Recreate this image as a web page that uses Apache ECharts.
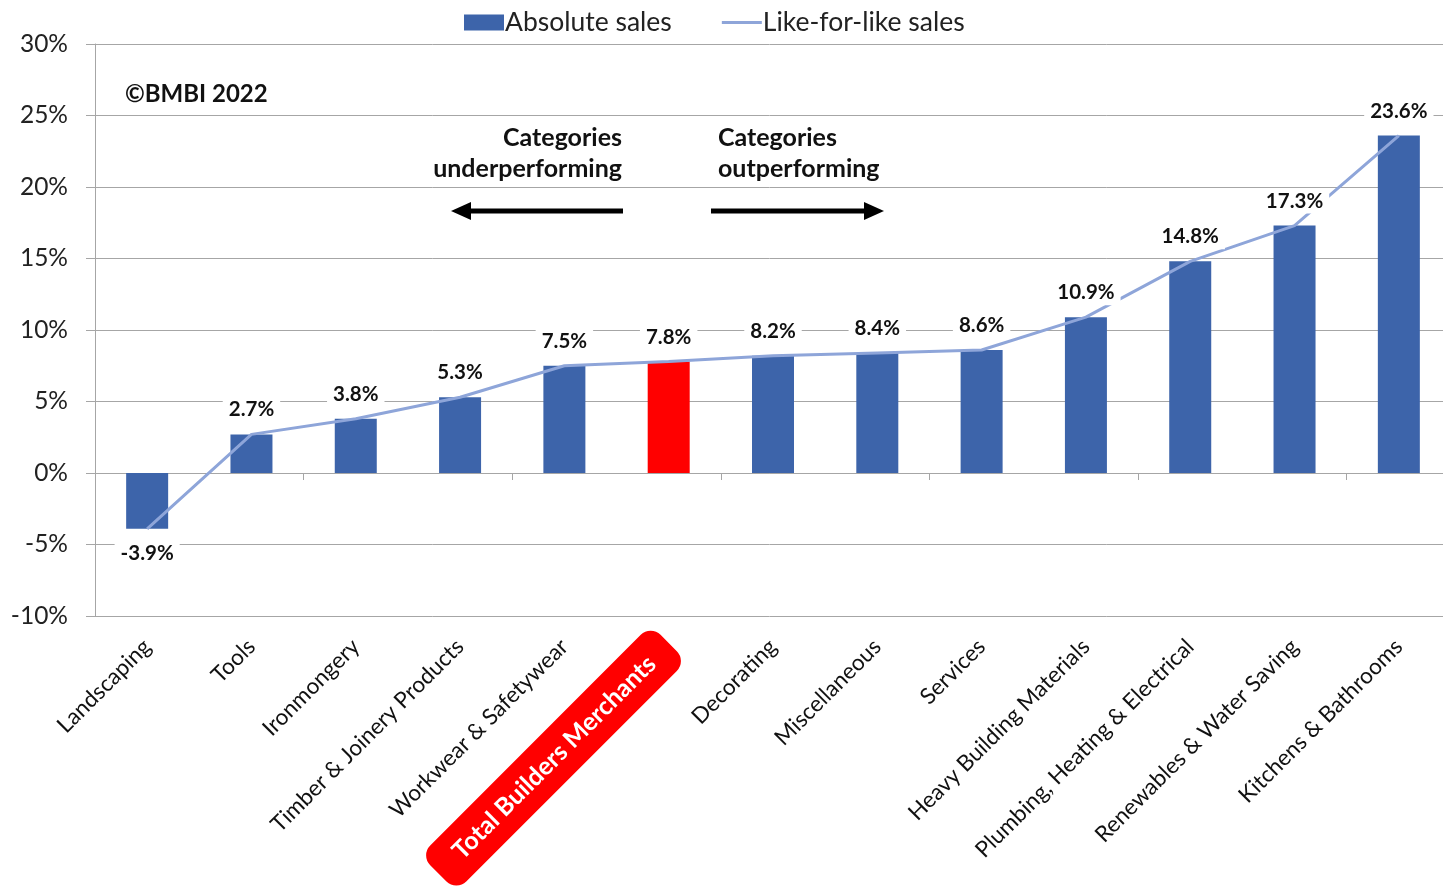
<!DOCTYPE html>
<html>
<head>
<meta charset="utf-8">
<script src="https://cdn.jsdelivr.net/npm/echarts@6/dist/echarts.min.js"></script>
<style>
  html, body { margin: 0; padding: 0; background: #fff; }
  #chart { width: 1443px; height: 886px; }
</style>
</head>
<body>
<div id="chart"></div>
<script>
// categories, sorted from worst to best
var categories = [
  'Landscaping', 'Tools', 'Ironmongery', 'Timber & Joinery Products',
  'Workwear & Safetywear', 'Total Builders Merchants', 'Decorating',
  'Miscellaneous', 'Services', 'Heavy Building Materials',
  'Plumbing, Heating & Electrical', 'Renewables & Water Saving',
  'Kitchens & Bathrooms'
];
var absoluteSales = [-3.9, 2.7, 3.8, 5.3, 7.5, 7.8, 8.2, 8.4, 8.6, 10.9, 14.8, 17.3, 23.6];
var likeForLike = [-3.9, 2.7, 3.8, 5.3, 7.5, 7.8, 8.2, 8.4, 8.6, 10.9, 14.8, 17.3, 23.6];
var yTicks = { min: -10, max: 30, step: 5 };
var totalName = 'Total Builders Merchants';

var FONT = 'Lato, "Noto Sans", sans-serif';
var blue = '#3D64AA';
var lineBlue = '#8EA5D9';
var grey = '#A6A6A6';

var myChart = echarts.init(document.getElementById('chart'));

var barData = absoluteSales.map(function (v, i) {
  if (categories[i] === totalName) {
    return { value: v, itemStyle: { color: '#FF0000' } };
  }
  return v;
});

// value labels sit on the line series so they mask the line and gridlines
var lineData = likeForLike.map(function (v) {
  if (v < 0) return { value: v, label: { position: 'bottom' } };
  return v;
});

var option = {
  backgroundColor: '#fff',
  textStyle: { fontFamily: FONT },
  animation: false,
  legend: {
    top: 4,
    left: 459,
    itemWidth: 40,
    itemHeight: 16,
    itemGap: 50,
    textStyle: { fontSize: 26.5, color: '#222', fontFamily: FONT, padding: [0, 0, 0, -4] },
    data: [
      { name: 'Absolute sales', icon: 'rect' },
      { name: 'Like-for-like sales', icon: 'path://M0,0 L40,0 L40,3 L0,3 Z', itemStyle: { color: lineBlue } }
    ]
  },
  grid: { left: 95, right: -8, top: 44, bottom: 270, outerBoundsMode: 'none', containLabel: false },
  xAxis: [{
    type: 'category',
    data: categories,
    axisLine: { onZero: true, lineStyle: { color: grey, width: 1 } },
    axisTick: { show: true, length: 7, lineStyle: { color: grey } },
    axisLabel: { show: false }
  }, {
    type: 'category',
    data: categories,
    position: 'bottom',
    axisLine: { show: false, onZero: false },
    axisTick: { show: false },
    axisLabel: {
      rotate: 45,
      margin: 27,
      interval: 0,
      formatter: function (v) {
        return v === totalName ? '{tot|' + v + '}' : '{n|' + v + '}';
      },
      rich: {
        n: { fontSize: 22.5, color: '#111', fontFamily: FONT },
        tot: {
          fontSize: 25, color: '#fff', fontWeight: 'bold', fontFamily: FONT,
          backgroundColor: '#FF0000', borderRadius: 14, padding: [13, 24, 13, 26]
        }
      }
    }
  }],
  yAxis: {
    type: 'value',
    min: yTicks.min,
    max: yTicks.max,
    interval: yTicks.step,
    axisLine: { show: true, lineStyle: { color: grey } },
    axisTick: { show: true, length: 9, lineStyle: { color: grey } },
    axisLabel: { fontSize: 24.5, color: '#222', margin: 27, formatter: '{value}%' },
    splitLine: { lineStyle: { color: grey, width: 1 } }
  },
  series: [{
    name: 'Absolute sales',
    type: 'bar',
    xAxisIndex: 0,
    barWidth: 42,
    itemStyle: { color: blue },
    data: barData,
    z: 2
  }, {
    name: 'Like-for-like sales',
    type: 'line',
    xAxisIndex: 0,
    symbol: 'circle',
    symbolSize: 0,
    showSymbol: true,
    lineStyle: { color: lineBlue, width: 3 },
    itemStyle: { color: lineBlue },
    label: {
      show: true,
      position: 'top',
      distance: 12,
      fontSize: 20.5,
      fontWeight: 'bold',
      color: '#111',
      fontFamily: FONT,
      backgroundColor: '#fff',
      padding: [2, 6],
      formatter: function (p) { return p.value.toFixed(1) + '%'; }
    },
    data: lineData,
    z: 3
  }],
  graphic: [
    {
      type: 'text', left: 125, top: 82,
      style: { text: '\u00A9BMBI 2022', font: 'bold 24px ' + FONT, fill: '#111' }
    },
    {
      type: 'text', x: 622, y: 122,
      style: { text: 'Categories\nunderperforming', align: 'right', font: 'bold 25px ' + FONT, lineHeight: 31, fill: '#111' }
    },
    {
      type: 'text', x: 718, y: 122,
      style: { text: 'Categories\noutperforming', align: 'left', font: 'bold 25px ' + FONT, lineHeight: 31, fill: '#111' }
    },
    {
      type: 'line', shape: { x1: 623, y1: 211, x2: 468, y2: 211 },
      style: { stroke: '#000', lineWidth: 5 }
    },
    {
      type: 'polygon', shape: { points: [[451, 211], [471, 202], [471, 220]] },
      style: { fill: '#000' }
    },
    {
      type: 'line', shape: { x1: 711, y1: 211, x2: 866, y2: 211 },
      style: { stroke: '#000', lineWidth: 5 }
    },
    {
      type: 'polygon', shape: { points: [[884, 211], [864, 202], [864, 220]] },
      style: { fill: '#000' }
    }
  ]
};

myChart.setOption(option);
window.onresize = function () {
  myChart.resize();
};
</script>
</body>
</html>
